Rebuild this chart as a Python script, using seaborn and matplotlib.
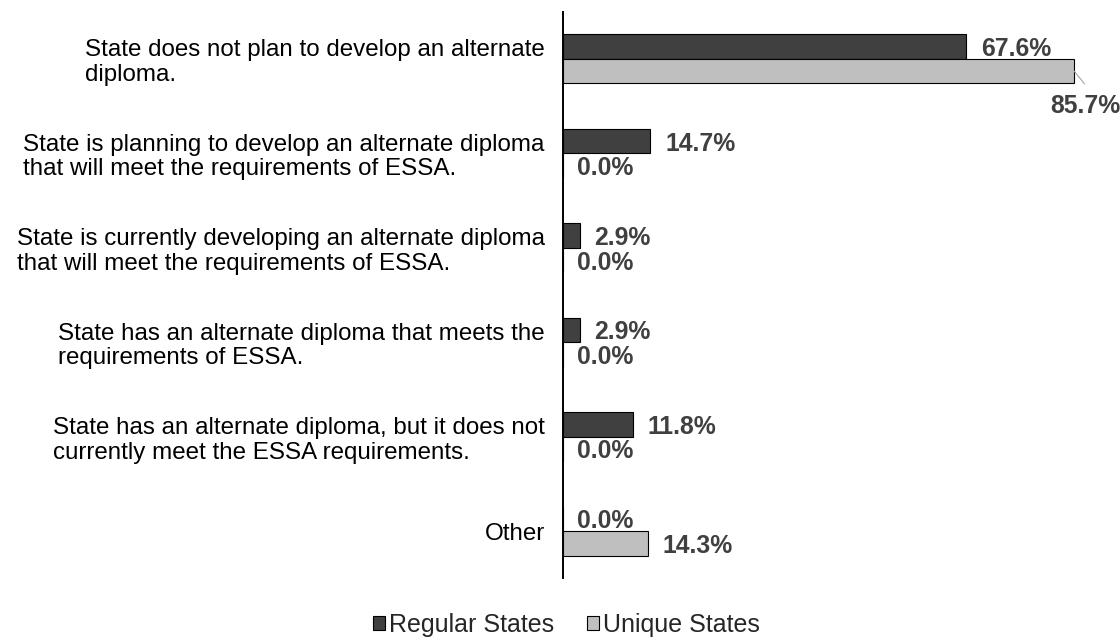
import matplotlib
matplotlib.use("Agg")
import matplotlib.pyplot as plt
import seaborn as sns
import pandas as pd

# Survey responses: status of alternate diplomas under ESSA
categories = [
    "State does not plan to develop an alternate\ndiploma.",
    "State is planning to develop an alternate diploma\nthat will meet the requirements of ESSA.",
    "State is currently developing an alternate diploma\nthat will meet the requirements of ESSA.",
    "State has an alternate diploma that meets the\nrequirements of ESSA.",
    "State has an alternate diploma, but it does not\ncurrently meet the ESSA requirements.",
    "Other",
]
groups = ["Regular States", "Unique States"]
regular_pct = [67.6, 14.7, 2.9, 2.9, 11.8, 0.0]
unique_pct = [85.7, 0.0, 0.0, 0.0, 0.0, 14.3]

colors = ["#404040", "#BFBFBF"]
label_color = "#404040"

df = pd.DataFrame({
    "category": categories * 2,
    "pct": regular_pct + unique_pct,
    "group": [groups[0]] * len(categories) + [groups[1]] * len(categories),
})

sns.set_theme(style="white")
plt.rcParams["font.family"] = ["Liberation Sans", "DejaVu Sans"]

fig = plt.figure(figsize=(11.2, 6.37), dpi=100)
ax = fig.add_axes([0.5024, 0.0921, 0.4797, 0.8895])

sns.barplot(
    data=df, y="category", x="pct", hue="group", orient="h",
    order=categories, hue_order=groups, palette=colors, saturation=1,
    edgecolor="black", linewidth=0.8, width=0.52, ax=ax,
)

ax.set_xlim(0, 90)
ax.set_ylim(len(categories) - 0.5, -0.5)
ax.set_xlabel("")
ax.set_ylabel("")
ax.set_xticks([])
for side in ("top", "right", "bottom"):
    ax.spines[side].set_visible(False)
ax.spines["left"].set_color("black")
ax.spines["left"].set_linewidth(1.4)
ax.tick_params(axis="y", length=0, pad=13, labelsize=17.4, labelcolor="black")
for t in ax.get_yticklabels():
    t.set_multialignment("left")
    t.set_linespacing(1.15)

# Value labels to the right of each bar; the longest bar gets its label
# dropped underneath with a short leader line.
series = [regular_pct, unique_pct]
for container, values in zip(ax.containers, series):
    for bar, v in zip(container.patches, values):
        yc = bar.get_y() + bar.get_height() / 2
        text = f"{v:.1f}%"
        if v > 80:
            ax.annotate(
                text, xy=(v, yc), xytext=(8, -23), textcoords="offset points",
                ha="center", va="center_baseline", fontsize=17.8,
                fontweight="bold", color=label_color, annotation_clip=False,
                arrowprops=dict(arrowstyle="-", color="#A6A6A6", lw=0.8,
                                relpos=(0.6, 1.0), shrinkA=6, shrinkB=0),
            )
        else:
            ax.annotate(
                text, xy=(v, yc), xytext=(10.5, 0), textcoords="offset points",
                ha="left", va="center_baseline", fontsize=17.8,
                fontweight="bold", color=label_color, annotation_clip=False,
            )

handles, labels = ax.get_legend_handles_labels()
ax.legend(
    handles, labels, loc="center", bbox_to_anchor=(0.5055, 0.019),
    bbox_transform=fig.transFigure, ncol=2, frameon=False, fontsize=18,
    handlelength=0.5, handleheight=0.5, handletextpad=0.15,
    columnspacing=1.3,
)

fig.savefig("out.png", dpi=100)
